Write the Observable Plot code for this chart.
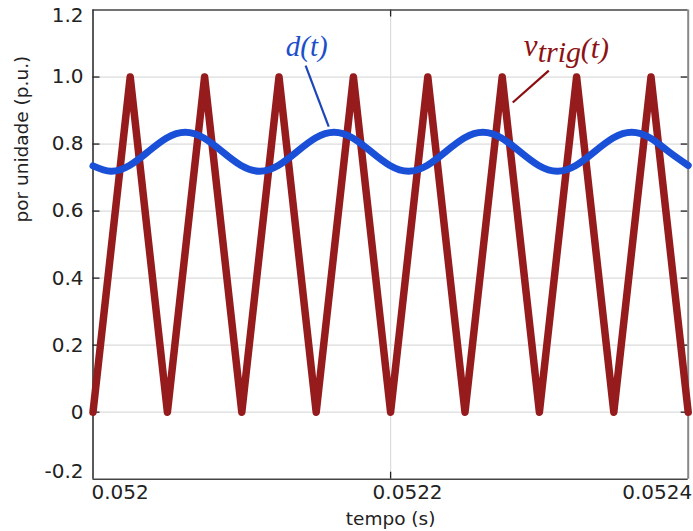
<!DOCTYPE html>
<html><head><meta charset="utf-8">
<script src="https://cdn.jsdelivr.net/npm/d3@7"></script>
<script src="https://cdn.jsdelivr.net/npm/@observablehq/plot@0.6"></script>
<style>body{margin:0;background:#fff} svg{display:block}</style>
</head><body><div id="chart"></div>
<script>
// Triangular carrier v_trig(t): 20 kHz, 0..1
const trigTime = [0.052, 0.052025, 0.05205, 0.052075, 0.0521, 0.052125, 0.05215, 0.052175, 0.0522,
  0.052225, 0.05225, 0.052275, 0.0523, 0.052325, 0.05235, 0.052375, 0.0524];
const trigValue = [0, 1, 0, 1, 0, 1, 0, 1, 0, 1, 0, 1, 0, 1, 0, 1, 0];

// Duty cycle d(t)
const dutyTime = [0.052, 0.052012, 0.0520245, 0.052037, 0.0520495, 0.052062, 0.0520745, 0.052087, 0.0520995,
  0.052112, 0.0521245, 0.052137, 0.0521495, 0.052162, 0.0521745, 0.052187, 0.0521995,
  0.052212, 0.0522245, 0.052237, 0.0522495, 0.052262, 0.0522745, 0.052287, 0.0522995,
  0.052312, 0.0523245, 0.052337, 0.0523495, 0.052362, 0.0523745, 0.052387, 0.0524];
const dutyValue = [0.735, 0.719, 0.736, 0.777, 0.818, 0.835, 0.818, 0.777, 0.736,
  0.719, 0.736, 0.777, 0.818, 0.835, 0.818, 0.777, 0.736,
  0.719, 0.736, 0.777, 0.818, 0.835, 0.818, 0.777, 0.736,
  0.719, 0.736, 0.777, 0.818, 0.835, 0.818, 0.777, 0.736];

const yTicks = [-0.2, 0, 0.2, 0.4, 0.6, 0.8, 1.0, 1.2];
const yTickLabels = ["-0.2", "0", "0.2", "0.4", "0.6", "0.8", "1.0", "1.2"];
const xTicks = [0.052, 0.0522, 0.0524];
const xTickLabels = ["0.052", "0.0522", "0.0524"];
const xLabel = "tempo (s)";
const yLabel = "por unidade (p.u.)";

// annotations (data coordinates)
const dLabel = {x: 0.0521436, y: 1.064, text: "d(t)"};
const dLeader = {x1: 0.0521429, y1: 1.034, x2: 0.0521584, y2: 0.852};
const vLabel = {x: 0.0522895, y: 1.064};
const vLeader = {x1: 0.0523063, y1: 1.019, x2: 0.0522821, y2: 0.924};

const W = 693, H = 531, ml = 92.5, mr = 5.3, mt = 9.5, mb = 52.3;
const pw = W - ml - mr, ph = H - mt - mb;

const trig = trigTime.map((t, i) => ({t, v: trigValue[i]}));
const duty = dutyTime.map((t, i) => ({t, v: dutyValue[i]}));
const innerY = yTicks.slice(1, -1);
const innerX = xTicks.slice(1, -1);
const fmtY = d => yTickLabels[yTicks.indexOf(d)];

const RED = "#951b1d", BLUE = "#1a4fd8";

const chart = Plot.plot({
  width: W, height: H,
  marginLeft: ml, marginRight: mr, marginTop: mt, marginBottom: mb,
  style: {fontFamily: "DejaVu Sans", color: "#222", background: "#fff", overflow: "visible"},
  x: {domain: [0.052, 0.0524]},
  y: {domain: [-0.2, 1.2]},
  marks: [
    Plot.ruleY(innerY, {stroke: "#dcdcdc", strokeWidth: 1.2}),
    Plot.ruleX(innerX, {stroke: "#dcdcdc", strokeWidth: 1.2}),
    // inward ticks
    Plot.tickY(innerY, {y: d => d, insetRight: pw - 7, stroke: "#222", strokeWidth: 1.3}),
    Plot.tickY(innerY, {y: d => d, insetLeft: pw - 7, stroke: "#222", strokeWidth: 1.3}),
    Plot.tickX(innerX, {x: d => d, insetTop: ph - 7, stroke: "#222", strokeWidth: 1.3}),
    Plot.tickX(innerX, {x: d => d, insetBottom: ph - 7, stroke: "#222", strokeWidth: 1.3}),
    // frame
    Plot.ruleY([1.2], {stroke: "#444", strokeWidth: 1.5}),
    Plot.ruleX([0.0524], {stroke: "#888", strokeWidth: 2}),
    Plot.ruleY([-0.2], {stroke: "#444", strokeWidth: 1.5}),
    Plot.ruleX([0.052], {stroke: "#222", strokeWidth: 1.5}),
    // data
    Plot.line(trig, {x: "t", y: "v", stroke: RED, strokeWidth: 7.5, strokeLinejoin: "round", strokeLinecap: "round", clip: false}),
    Plot.line(duty, {x: "t", y: "v", stroke: BLUE, strokeWidth: 7, curve: "natural", strokeLinecap: "round"}),
    // leaders
    Plot.link([dLeader], {x1: "x1", y1: "y1", x2: "x2", y2: "y2", stroke: "#1d46b8", strokeWidth: 2.2}),
    Plot.link([vLeader], {x1: "x1", y1: "y1", x2: "x2", y2: "y2", stroke: "#8b0d10", strokeWidth: 2.2}),
    // annotation texts
    Plot.text([dLabel], {x: "x", y: "y", text: "text", fill: "#1c4fc9", fontFamily: "Liberation Serif", fontStyle: "italic", fontSize: 29, textAnchor: "middle", lineAnchor: "bottom"}),
    Plot.text([vLabel], {x: "x", y: "y", text: () => "v", fill: "#8c1214", fontFamily: "Liberation Serif", fontStyle: "italic", fontSize: 31, textAnchor: "start", lineAnchor: "bottom"}),
    Plot.text([vLabel], {x: "x", y: "y", text: () => "trig", dx: 14, dy: 6, fill: "#8c1214", fontFamily: "Liberation Serif", fontStyle: "italic", fontSize: 30, textAnchor: "start", lineAnchor: "bottom"}),
    Plot.text([vLabel], {x: "x", y: "y", text: () => "(t)", dx: 57, dy: 2, fill: "#8c1214", fontFamily: "Liberation Serif", fontStyle: "italic", fontSize: 30, textAnchor: "start", lineAnchor: "bottom"}),
    // axes
    Plot.axisY(innerY, {tickSize: 0, tickPadding: 9.5, tickFormat: fmtY, fontSize: 20, label: null}),
    Plot.axisY([yTicks[yTicks.length - 1]], {tickSize: 0, tickPadding: 9.5, tickFormat: fmtY, dy: 6, fontSize: 20, label: null}),
    Plot.axisY([yTicks[0]], {tickSize: 0, tickPadding: 9.5, tickFormat: fmtY, dy: -8, fontSize: 20, label: null}),
    Plot.axisX([xTicks[0]], {tickSize: 0, tickPadding: 6, tickFormat: () => xTickLabels[0], textAnchor: "start", dx: -1.5, fontSize: 20, label: null}),
    Plot.axisX([xTicks[1]], {tickSize: 0, tickPadding: 6, tickFormat: () => xTickLabels[1], dx: 17, fontSize: 20, label: null}),
    Plot.axisX([xTicks[2]], {tickSize: 0, tickPadding: 6, tickFormat: () => xTickLabels[2], textAnchor: "end", dx: 4, fontSize: 20, label: null}),
    Plot.text([xLabel], {frameAnchor: "bottom", text: d => d, dy: 46, lineAnchor: "bottom", fontSize: 18.5, fill: "#222"}),
    Plot.text([yLabel], {frameAnchor: "left", text: d => d, rotate: -90, dx: -70.5, dy: -22, fontSize: 18.5, fill: "#222"})
  ]
});
document.getElementById("chart").append(chart);
</script>
</body></html>
